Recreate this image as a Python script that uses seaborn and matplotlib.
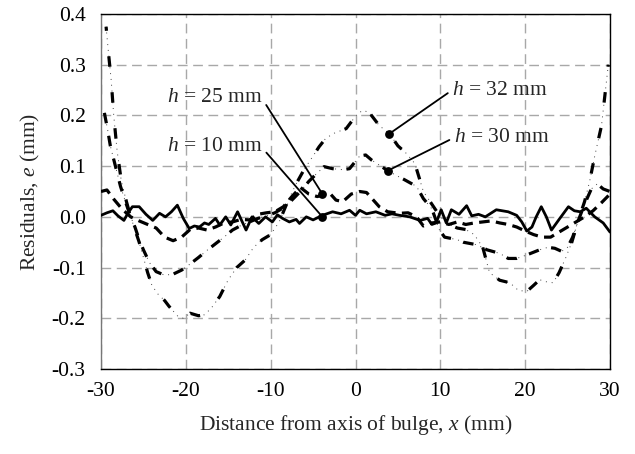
import matplotlib
matplotlib.use("Agg")
import matplotlib.pyplot as plt
import pandas as pd
import seaborn as sns

# ---------------- data ----------------
h10_points = [(-30, 0.003), (-29.3, 0.008), (-28.6, 0.012), (-28.0, 0.002), (-27.3, -0.007),
              (-26.8, 0.008), (-26.3, 0.020), (-25.5, 0.020), (-24.7, 0.005), (-23.9, -0.007),
              (-23.1, 0.007), (-22.4, 0.000), (-21.7, 0.010), (-21.0, 0.023), (-20.3, -0.003),
              (-19.6, -0.023), (-19.0, -0.018), (-18.4, -0.020), (-17.8, -0.012), (-17.3, -0.015),
              (-16.5, -0.003), (-16.0, -0.016), (-15.3, 0.000), (-14.7, -0.016), (-13.9, 0.010),
              (-12.9, -0.026), (-12.2, 0.000), (-11.4, -0.013), (-10.6, 0.000), (-9.8, -0.010),
              (-9.2, 0.004), (-8.6, -0.003), (-7.8, -0.010), (-7.0, -0.005), (-6.6, -0.013),
              (-5.8, 0.000), (-5.0, -0.006), (-3.9, 0.003), (-2.7, 0.010), (-1.7, 0.006),
              (-0.7, 0.013), (0.0, 0.003), (0.5, 0.013), (1.3, 0.006), (2.4, 0.010),
              (3.5, 0.003), (4.3, 0.006), (5.2, 0.003), (6.4, 0.000), (7.6, -0.007),
              (8.5, -0.003), (9.0, -0.015), (9.5, -0.012), (10.1, 0.014), (10.7, -0.012),
              (11.3, 0.014), (12.2, 0.005), (13.1, 0.022), (13.7, 0.002), (14.5, 0.005),
              (15.3, 0.000), (16.6, 0.014), (18.0, 0.010), (19.0, 0.003), (19.6, -0.010),
              (20.2, -0.028), (20.8, -0.020), (21.3, 0.000), (21.9, 0.020), (22.5, 0.000),
              (23.1, -0.026), (24.0, -0.005), (25.1, 0.020), (25.8, 0.012), (26.5, 0.010),
              (27.2, 0.017), (28.2, 0.000), (29.2, -0.012), (30.0, -0.030)]

h25_points = [(-30, 0.050), (-29.3, 0.053), (-28.5, 0.035), (-27.5, 0.015), (-26.5, 0.000),
              (-25.5, -0.008), (-24.5, -0.015), (-23.5, -0.022), (-22.5, -0.040), (-21.5, -0.047),
              (-20.5, -0.040), (-19.5, -0.025), (-18.5, -0.022), (-17.5, -0.026), (-16.5, -0.020),
              (-15.5, -0.012), (-14.5, -0.010), (-13.5, -0.005), (-12.5, -0.006), (-11.5, 0.005),
              (-10.5, 0.008), (-9.5, 0.010), (-8.5, 0.020), (-7.5, 0.040), (-6.5, 0.058),
              (-5.5, 0.045), (-4.5, 0.040), (-3.9, 0.043), (-3.0, 0.046), (-2.3, 0.033),
              (-1.5, 0.030), (-0.5, 0.045), (0.5, 0.050), (1.3, 0.048), (2.0, 0.035),
              (2.8, 0.020), (3.8, 0.010), (5.2, 0.007), (6.2, 0.008), (7.2, 0.000),
              (8.0, -0.018), (9.0, -0.012), (10.0, -0.010), (11.0, -0.015), (12.0, -0.010),
              (13.0, -0.015), (14.0, -0.012), (15.0, -0.010), (16.0, -0.008), (17.0, -0.012),
              (18.0, -0.015), (19.0, -0.020), (20.0, -0.028), (21.0, -0.035), (22.0, -0.040),
              (23.0, -0.040), (24.0, -0.030), (25.0, -0.020), (26.0, -0.010), (27.0, 0.000),
              (28.0, 0.012), (29.0, 0.028), (30.0, 0.045)]

h30_points = [(-29.6, 0.205), (-29.2, 0.170), (-28.9, 0.140), (-28.3, 0.100), (-27.7, 0.060),
              (-27.2, 0.034), (-26.5, 0.000), (-26.0, -0.020), (-25.5, -0.045), (-25.0, -0.065),
              (-24.3, -0.090), (-23.5, -0.108), (-22.5, -0.115), (-21.5, -0.113), (-20.5, -0.105),
              (-19.5, -0.093), (-18.5, -0.080), (-17.5, -0.066), (-16.5, -0.053), (-15.5, -0.040),
              (-14.5, -0.026), (-13.5, -0.017), (-12.5, -0.010), (-11.5, -0.003), (-10.5, 0.002),
              (-9.5, 0.008), (-8.5, 0.018), (-7.5, 0.033), (-6.5, 0.050), (-5.5, 0.070),
              (-4.6, 0.085), (-3.7, 0.099), (-2.7, 0.095), (-1.5, 0.093), (-0.7, 0.095),
              (0.5, 0.120), (1.2, 0.122), (1.9, 0.112), (3.0, 0.100), (3.8, 0.091),
              (5.0, 0.080), (5.8, 0.073), (7.2, 0.060), (8.0, 0.036), (9.0, 0.016),
              (9.9, -0.026), (10.5, -0.040), (11.1, -0.042), (12.0, -0.045), (12.7, -0.050),
              (14.3, -0.055), (15.5, -0.065), (17.0, -0.072), (18.0, -0.082), (19.0, -0.082),
              (20.2, -0.075), (21.7, -0.065), (22.7, -0.060), (23.5, -0.062), (24.3, -0.068),
              (25.0, -0.060), (25.6, -0.040), (26.2, -0.010), (27.0, 0.025), (27.8, 0.055),
              (28.5, 0.065), (29.2, 0.055), (30.0, 0.050)]

h32_points = [(-29.4, 0.375), (-29.1, 0.320), (-28.8, 0.270), (-28.5, 0.200), (-28.1, 0.130),
              (-27.6, 0.070), (-27.0, 0.030), (-26.5, 0.000), (-26.0, -0.025), (-25.5, -0.050),
              (-25.0, -0.080), (-24.5, -0.110), (-24.0, -0.135), (-23.3, -0.152), (-22.5, -0.165),
              (-22.0, -0.176), (-21.0, -0.195), (-20.3, -0.200), (-19.5, -0.190), (-18.5, -0.195),
              (-17.8, -0.193), (-17.0, -0.180), (-16.0, -0.157), (-15.0, -0.124), (-14.0, -0.100),
              (-13.0, -0.085), (-12.0, -0.060), (-11.0, -0.045), (-10.0, -0.035), (-9.0, -0.010),
              (-8.0, 0.030), (-7.0, 0.065), (-6.0, 0.095), (-5.0, 0.120), (-4.3, 0.138),
              (-3.5, 0.155), (-2.5, 0.165), (-1.1, 0.174), (0.3, 0.205), (1.0, 0.210),
              (1.7, 0.204), (2.8, 0.180), (4.0, 0.164), (5.0, 0.140), (6.0, 0.125),
              (7.0, 0.105), (8.0, 0.050), (9.0, 0.025), (10.0, 0.000), (11.0, -0.015),
              (12.0, -0.022), (13.0, -0.025), (14.0, -0.035), (15.0, -0.060), (15.8, -0.110),
              (17.0, -0.125), (18.2, -0.130), (19.2, -0.145), (20.2, -0.147), (21.0, -0.135),
              (21.7, -0.124), (22.5, -0.128), (23.3, -0.130), (24.0, -0.110), (24.8, -0.080),
              (25.5, -0.050), (26.2, -0.010), (27.0, 0.030), (27.6, 0.070), (28.2, 0.120),
              (28.6, 0.150), (29.0, 0.180), (29.4, 0.240), (29.8, 0.300)]

labels = ["$h$ = 10 mm", "$h$ = 25 mm", "$h$ = 30 mm", "$h$ = 32 mm"]
marker_points = [(-3.9, 0.0), (-3.9, 0.045), (3.8, 0.091), (4.0, 0.164)]

x_ticks = [-30, -20, -10, 0, 10, 20, 30]
y_ticks = [-0.3, -0.2, -0.1, 0.0, 0.1, 0.2, 0.3, 0.4]

# ---------------- style ----------------
sns.set_style("white")
plt.rcParams["font.family"] = ["Liberation Serif", "DejaVu Serif"]
plt.rcParams["mathtext.fontset"] = "custom"
plt.rcParams["mathtext.rm"] = "Liberation Serif"
plt.rcParams["mathtext.it"] = "Liberation Serif:italic"

FS = 15.5

fig = plt.figure(figsize=(6.35, 4.54), dpi=100)
ax = fig.add_axes([101 / 635, 1 - 369 / 454, (610 - 101) / 635, (369 - 14) / 454])


def frame(points):
    return pd.DataFrame(points, columns=["x", "e"])


d10, d25, d30, d32 = frame(h10_points), frame(h25_points), frame(h30_points), frame(h32_points)

# h = 10 mm : solid
sns.lineplot(data=d10, x="x", y="e", ax=ax, color="black", lw=2.0, zorder=5)
# h = 25 mm : dashed
sns.lineplot(data=d25, x="x", y="e", ax=ax, color="black", lw=2.3,
             linestyle=(0, (3.3, 2.0)), zorder=4)
# h = 30 mm : dash-dot (thin dotted underlay + thick dashes)
sns.lineplot(data=d30, x="x", y="e", ax=ax, color="#444444", lw=0.7,
             linestyle=(0, (1, 5)), zorder=3)
sns.lineplot(data=d30, x="x", y="e", ax=ax, color="black", lw=2.3,
             linestyle=(0, (3.3, 4.0)), zorder=4)
# h = 32 mm : dash-dot-dot
sns.lineplot(data=d32, x="x", y="e", ax=ax, color="#444444", lw=0.7,
             linestyle=(0, (1, 5)), zorder=3)
sns.lineplot(data=d32, x="x", y="e", ax=ax, color="black", lw=2.3,
             linestyle=(2, (3.3, 8.0)), zorder=4)

# marker dots on the curves
mk = pd.DataFrame(marker_points, columns=["x", "e"])
sns.scatterplot(data=mk, x="x", y="e", ax=ax, color="black", s=40, edgecolor="black",
                linewidth=0, zorder=7)

# annotations
ann_kw = dict(fontsize=FS, va="center")
ax.annotate(labels[1], xy=marker_points[1], xytext=(-11.0, 0.235), ha="right",
            arrowprops=dict(arrowstyle="-", lw=1.3, color="black", shrinkA=1, shrinkB=0,
                            relpos=(1.0, 0.45)), zorder=8, **ann_kw)
ax.annotate(labels[0], xy=marker_points[0], xytext=(-11.0, 0.138), ha="right",
            arrowprops=dict(arrowstyle="-", lw=1.3, color="black", shrinkA=1, shrinkB=0,
                            relpos=(1.0, 0.45)), zorder=8, **ann_kw)
ax.annotate(labels[3], xy=marker_points[3], xytext=(11.4, 0.25), ha="left",
            arrowprops=dict(arrowstyle="-", lw=1.3, color="black", shrinkA=1, shrinkB=0,
                            relpos=(0.0, 0.5)), zorder=8, **ann_kw)
ax.annotate(labels[2], xy=marker_points[2], xytext=(11.6, 0.156), ha="left",
            arrowprops=dict(arrowstyle="-", lw=1.3, color="black", shrinkA=1, shrinkB=0,
                            relpos=(0.0, 0.5)), zorder=8, **ann_kw)

# axes
ax.set_xlim(-30, 30)
ax.set_ylim(-0.3, 0.4)
ax.set_xticks(x_ticks)
ax.set_yticks(y_ticks)
ax.set_xticklabels([f"{t:d}" for t in x_ticks])
ax.set_yticklabels([f"{t:.1f}" for t in y_ticks])
ax.grid(True, color="#a8a8a8", lw=1.0, linestyle=(0, (7, 4)))
ax.set_axisbelow(True)
ax.tick_params(axis="both", which="major", direction="out", length=4, width=1,
               labelsize=FS, colors="black")
ax.tick_params(axis="y", pad=7)
ax.tick_params(axis="x", pad=5)
for side, sp in ax.spines.items():
    sp.set_visible(True)
    sp.set_linewidth(1.0)
    sp.set_color("black")
ax.spines["left"].set_color("#777777")
ax.set_xlabel("Distance from axis of bulge, $x$ (mm)", fontsize=FS, labelpad=9)
ax.set_ylabel("Residuals, $e$ (mm)", fontsize=FS, labelpad=7)

fig.savefig("out.png", dpi=100)
